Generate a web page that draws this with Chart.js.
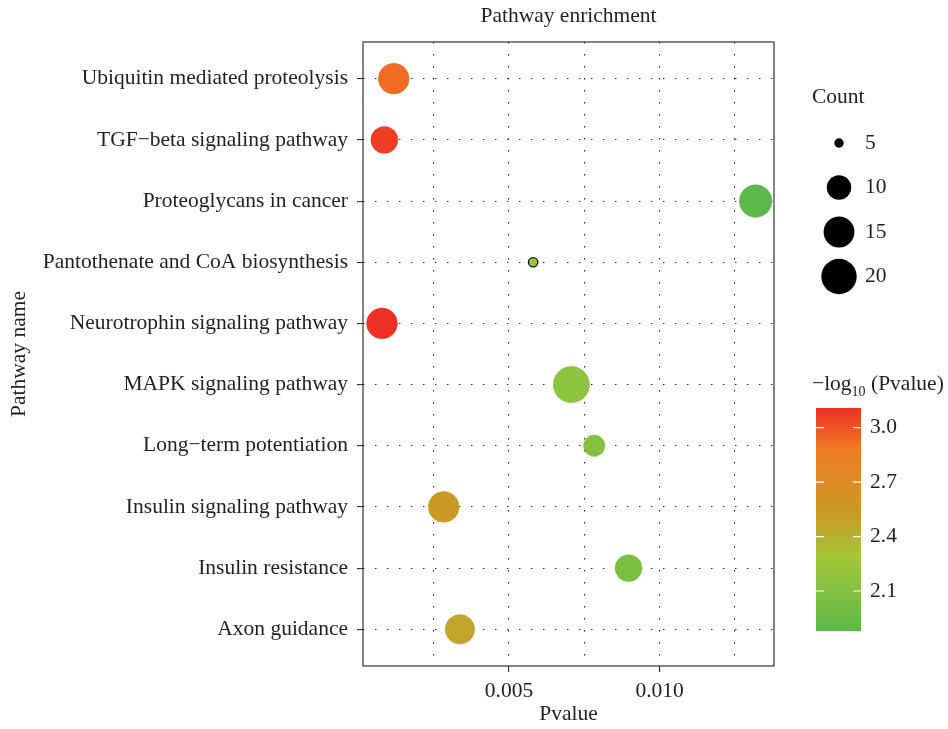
<!DOCTYPE html>
<html>
<head>
<meta charset="utf-8">
<script src="https://cdn.jsdelivr.net/npm/chart.js@4.4.1/dist/chart.umd.min.js"></script>
<style>
  html, body { margin: 0; padding: 0; background: #fff; }
  canvas { display: block; }
</style>
</head>
<body>
<canvas id="chart" width="948" height="729"></canvas>
<script>
// Datos (de arriba hacia abajo)
const pathways = [
  'Ubiquitin mediated proteolysis',
  'TGF\u2212beta signaling pathway',
  'Proteoglycans in cancer',
  'Pantothenate and CoA biosynthesis',
  'Neurotrophin signaling pathway',
  'MAPK signaling pathway',
  'Long\u2212term potentiation',
  'Insulin signaling pathway',
  'Insulin resistance',
  'Axon guidance'
];
const pvalues = [0.00117, 0.00086, 0.01319, 0.0058, 0.00078, 0.00707, 0.00783, 0.00283, 0.00897, 0.00337];
const counts = [15, 12, 17, 5, 15, 21, 9, 15, 12, 14];

const xGrid = [0.0025, 0.005, 0.0075, 0.010, 0.0125];
const xTickLabels = ['', '0.005', '', '0.010', ''];
const countKeys = [5, 10, 15, 20];
const colorTicks = [3.0, 2.7, 2.4, 2.1];

// estilos
const FONT = "'Liberation Serif', 'DejaVu Serif', serif";
const FS = 21.5;
const TEXT = '#231f20';
const keyRadius = [4.7, 12.2, 15.4, 17.7]; // radio en px de cada clave de tamaño
const colorStops = [
  [0.00, '#5cb848'],
  [0.33, '#a4c83a'],
  [0.52, '#c79c26'],
  [0.82, '#f07a24'],
  [1.00, '#ee2f24']
];

function sizeOf(c) {
  for (let i = 0; i < countKeys.length - 1; i++) {
    if (c <= countKeys[i + 1] || i === countKeys.length - 2) {
      const t = (c - countKeys[i]) / (countKeys[i + 1] - countKeys[i]);
      return keyRadius[i] + t * (keyRadius[i + 1] - keyRadius[i]);
    }
  }
}

function hex2rgb(h) {
  return [1, 3, 5].map(i => parseInt(h.substr(i, 2), 16));
}
function colorAt(t) {
  t = Math.max(0, Math.min(1, t));
  for (let i = 0; i < colorStops.length - 1; i++) {
    const [t0, c0] = colorStops[i], [t1, c1] = colorStops[i + 1];
    if (t <= t1) {
      const f = (t - t0) / (t1 - t0);
      const a = hex2rgb(c0), b = hex2rgb(c1);
      const m = a.map((v, k) => Math.round(v + f * (b[k] - v)));
      return `rgb(${m[0]},${m[1]},${m[2]})`;
    }
  }
  return colorStops[colorStops.length - 1][1];
}

const logp = pvalues.map(p => -Math.log10(p));
const cMin = Math.min(...logp), cMax = Math.max(...logp);
const fills = logp.map(v => colorAt((v - cMin) / (cMax - cMin)));

const points = pathways.map((name, i) => ({
  x: pvalues[i],
  y: pathways.length - i,
  r: sizeOf(counts[i])
}));

// leyendas, título y marco
const extras = {
  id: 'extras',
  afterDraw(chart) {
    const { ctx, chartArea: a } = chart;
    ctx.save();
    ctx.setLineDash([]);
    ctx.strokeStyle = '#333';
    ctx.lineWidth = 1.2;
    ctx.strokeRect(a.left, a.top, a.right - a.left, a.bottom - a.top);

    ctx.fillStyle = TEXT;
    ctx.textBaseline = 'middle';
    ctx.font = `${FS}px ${FONT}`;
    ctx.textAlign = 'center';
    ctx.fillText('Pathway enrichment', (a.left + a.right) / 2, 16);

    // leyenda de tamaño
    const lx = a.right + 38;
    ctx.textAlign = 'left';
    ctx.fillText('Count', lx, 97);
    countKeys.forEach((c, i) => {
      const y = 143 + i * 44.5;
      ctx.beginPath();
      ctx.arc(lx + 27, y, sizeOf(c), 0, Math.PI * 2);
      ctx.fillStyle = '#000';
      ctx.fill();
      ctx.fillStyle = TEXT;
      ctx.fillText(String(c), lx + 53, y);
    });

    // barra de color
    const bx = a.right + 42, bw = 45, bTop = 408, bBot = 631;
    ctx.font = `${FS}px ${FONT}`;
    ctx.fillText('\u2212log', bx - 4, 384);
    let w = ctx.measureText('\u2212log').width;
    ctx.font = `14px ${FONT}`;
    ctx.fillText('10', bx - 4 + w, 392);
    w += ctx.measureText('10').width;
    ctx.font = `${FS}px ${FONT}`;
    ctx.fillText(' (Pvalue)', bx - 4 + w, 384);

    const g = ctx.createLinearGradient(0, bBot, 0, bTop);
    colorStops.forEach(([t, c]) => g.addColorStop(t, c));
    ctx.fillStyle = g;
    ctx.fillRect(bx, bTop, bw, bBot - bTop);
    ctx.strokeStyle = '#fff';
    ctx.lineWidth = 1.2;
    ctx.fillStyle = TEXT;
    colorTicks.forEach(v => {
      const y = bBot - (v - cMin) / (cMax - cMin) * (bBot - bTop);
      ctx.beginPath();
      ctx.moveTo(bx, y); ctx.lineTo(bx + 8, y);
      ctx.moveTo(bx + bw - 8, y); ctx.lineTo(bx + bw, y);
      ctx.stroke();
      ctx.fillText(v.toFixed(1), bx + bw + 9, y);
    });
    ctx.restore();
  }
};

const ctx = document.getElementById('chart').getContext('2d');
const dotted = { color: '#222', lineWidth: 1.1, tickLength: 6, tickBorderDash: [] };

new Chart(ctx, {
  type: 'bubble',
  data: {
    datasets: [{
      data: points,
      backgroundColor: fills,
      borderColor: counts.map((c, i) => c <= 5 ? '#111' : fills[i]),
      borderWidth: counts.map(c => c <= 5 ? 1.3 : 0.5)
    }]
  },
  options: {
    responsive: false,
    animation: false,
    layout: { padding: { top: 42, right: 174, left: 0, bottom: 0 } },
    plugins: {
      legend: { display: false },
      tooltip: { enabled: false }
    },
    scales: {
      x: {
        type: 'linear',
        min: 0.00015,
        max: 0.0138,
        afterBuildTicks: s => { s.ticks = xGrid.map(v => ({ value: v })); },
        afterFit: s => { s.height = 63; },
        grid: Object.assign({}, dotted, {
          tickColor: c => xTickLabels[c.index] ? '#333' : 'rgba(0,0,0,0)'
        }),
        border: { display: false, dash: [1.4, 10.6] },
        ticks: {
          autoSkip: false,
          maxRotation: 0,
          padding: 6,
          color: TEXT,
          font: { family: FONT, size: FS },
          callback: (v, i) => xTickLabels[i]
        },
        title: {
          display: true,
          text: 'Pvalue',
          color: TEXT,
          font: { family: FONT, size: FS },
          padding: 2
        }
      },
      y: {
        type: 'linear',
        min: 0.4,
        max: pathways.length + 0.6,
        afterBuildTicks: s => { s.ticks = pathways.map((p, i) => ({ value: pathways.length - i })); },
        afterFit: s => { s.width = 363; },
        grid: Object.assign({}, dotted, { tickColor: '#333' }),
        border: { display: false, dash: [1.4, 10.6] },
        ticks: {
          autoSkip: false,
          padding: 9,
          color: TEXT,
          font: { family: FONT, size: FS },
          callback: v => pathways[pathways.length - v]
        },
        title: {
          display: true,
          text: 'Pathway name',
          color: TEXT,
          font: { family: FONT, size: FS },
          padding: 6
        }
      }
    }
  },
  plugins: [extras]
});
</script>
</body>
</html>
